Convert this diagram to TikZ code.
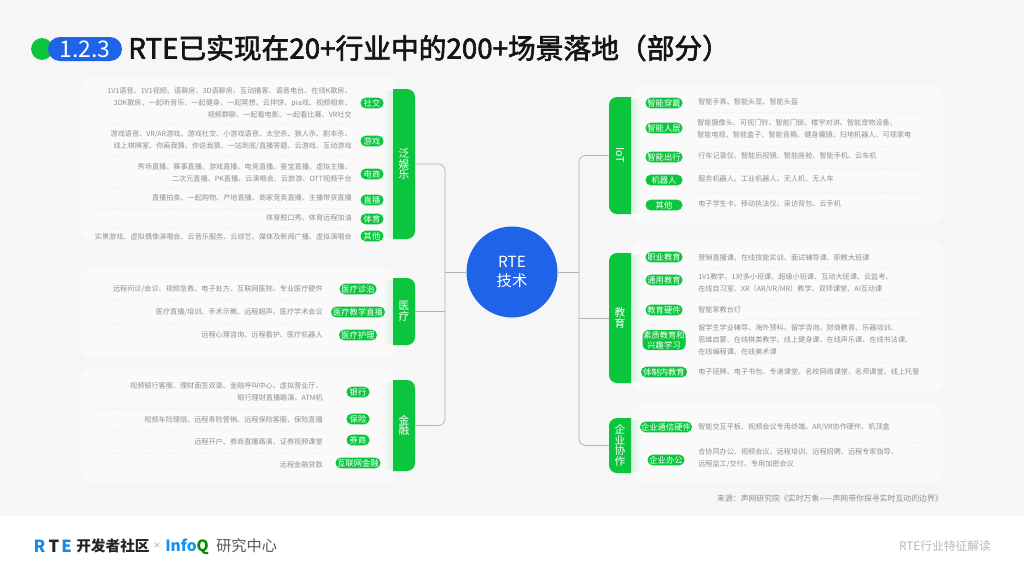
\documentclass[tikz,border=0pt]{standalone}
\usepackage{fontspec}
\setmainfont{Noto Sans CJK SC}
\newfontfamily\titlefont[FakeBold=2.2]{Noto Sans CJK SC}
\definecolor{bgc}{HTML}{F6F6F6}
\definecolor{panelc}{HTML}{FAFAFA}
\definecolor{greenc}{HTML}{0CC53F}
\definecolor{bluec}{HTML}{1F63E8}
\definecolor{bodyc}{HTML}{8F8F8F}
\definecolor{linec}{HTML}{B4B4B4}
\tikzset{
  x=0.75pt,y=-0.75pt,
  panel/.style={fill=panelc,rounded corners=9pt},
  bodytext/.style={font=\fontsize{5.35}{9}\selectfont,text=bodyc,inner sep=0pt},
  rtext/.style={bodytext,anchor=east,align=right},
  ltext/.style={bodytext,anchor=west,align=left},
  tagbox/.style={fill=greenc,text=white,rounded corners=3.9pt,inner sep=0pt,minimum height=8pt,minimum width=#1*0.75pt,font=\fontsize{6.2}{7.6}\selectfont},
  barfill/.style={fill=greenc,rounded corners=7pt},
  barlabel/.style={text=white,inner sep=0pt,align=center,font=\fontsize{8}{8}\selectfont},
  sep/.style={densely dotted,draw=black!6,line width=0.4pt},
  conn/.style={draw=linec,line width=0.55pt,rounded corners=5pt},
}
\newcommand{\barLeft}[6]{% name x1 y1 x2 y2 text (rounded right)
  \shade[left color=panelc,right color=greenc!14!panelc] (#2-10,#3+2) rectangle (#2,#5-2);
  \fill[greenc] (#2,#3) -- (#4-8,#3) arc[start angle=90,end angle=0,radius=6pt] -- (#4,#5-8) arc[start angle=0,end angle=-90,radius=6pt] -- (#2,#5) -- cycle;
  \node[barlabel,minimum width=22*0.75pt,minimum height={(#5-#3)*0.75pt}] (#1) at ({(#2+#4)/2},{(#3+#5)/2}) {#6};
}
\newcommand{\barRight}[6]{% name x1 y1 x2 y2 text (rounded left)
  \shade[right color=panelc,left color=greenc!14!panelc] (#4,#3+2) rectangle (#4+10,#5-2);
  \fill[greenc] (#4,#3) -- (#2+8,#3) arc[start angle=90,end angle=180,radius=6pt] -- (#2,#5-8) arc[start angle=180,end angle=270,radius=6pt] -- (#4,#5) -- cycle;
  \node[barlabel,minimum width=22*0.75pt,minimum height={(#5-#3)*0.75pt}] (#1) at ({(#2+#4)/2},{(#3+#5)/2}) {#6};
}
\begin{document}
\begin{tikzpicture}
\useasboundingbox (0,0) rectangle (1024,576);
\fill[bgc] (0,0) rectangle (1024,516);
\fill[white] (0,516) rectangle (1024,576);

% title
\fill[greenc] (42,49) circle[radius=8.2pt];
\node[fill=bluec,text=white,rounded corners=9pt,minimum width=74*0.75pt,minimum height=24*0.75pt,inner sep=0pt,font=\fontsize{17.2}{18}\selectfont] (num) at (85,49) {1.2.3};
\node[anchor=west,inner sep=0pt,font=\titlefont\fontsize{20.8}{24}\selectfont,text=black!92] (title) at (128,48) {RTE已实现在20+行业中的200+场景落地（部分）};

% panels
\fill[panel] (80,77) rectangle (395,241);
\fill[panel] (80,268) rectangle (395,358);
\fill[panel] (80,367) rectangle (395,483);
\fill[panel] (632,85) rectangle (943,224);
\fill[panel] (632,240) rectangle (943,393);
\fill[panel] (632,404) rectangle (943,483);

% bars
\barLeft{fun}{393}{89}{415}{239}{泛\\娱\\乐}
\barLeft{med}{393}{278}{415}{345}{医\\疗}
\barLeft{fin}{393}{380}{415}{471}{金\\融}
\barRight{iot}{609}{97}{631}{214}{}
\node[barlabel,rotate=-90] (iottext) at (iot.center) {IoT};
\barRight{edu}{609}{253}{631}{383}{教\\育}
\barRight{ent}{609}{418}{631}{473}{企\\业\\协\\作}

% centre
\node[circle,fill=bluec,text=white,minimum size=91*0.75pt,inner sep=0pt,align=center,font=\fontsize{11.5}{14.3}\selectfont] (tech) at (512,272) {RTE\\技术};

% connectors
\coordinate (busL) at (445,272);
\coordinate (busR) at (579,272);
\draw[conn] (fun.east) -| (busL) |- (fin.east);
\draw[conn] (med.east) -- (med.east -| busL);
\draw[conn] (tech.west) -- (busL);
\draw[conn] (iot.west) -| (busR) |- (ent.west);
\draw[conn] (edu.west) -- (edu.west -| busR);
\draw[conn] (tech.east) -- (busR);

% panel 1
\foreach \y in {123,156,188,208,228} \draw[sep] (97,\y) -- (352,\y);
\node[rtext] (a1) at (352,103) {1V1语音、1V1视频、语聊房、3D语聊房、互动播客、语音电台、在线K歌房、\\3DK歌房、一起听音乐、一起健身、一起冥想、云拌饼、pia戏、视频相亲、\\视频群聊、一起看电影、一起看比赛、VR社交};
\node[rtext] (a2) at (352,140) {游戏语音、VR/AR游戏、游戏社交、小游戏语音、太空杀、狼人杀、剧本杀、\\线上棋牌室、你画我猜、你说我猜、一站到底/直播答题、云游戏、互动游戏};
\node[rtext] (a3) at (352,173) {秀场直播、赛事直播、游戏直播、电竞直播、鉴宝直播、虚拟主播、\\二次元直播、PK直播、云演唱会、云旅游、OTT视频平台};
\node[rtext] (a4) at (352,198) {直播拍卖、一起购物、产地直播、商家竞卖直播、主播带货直播};
\node[rtext] (a5) at (352,218) {体育脱口秀、体育远程加油};
\node[rtext] (a6) at (352,237) {实景游戏、虚拟偶像演唱会、云音乐服务、云综艺、媒体及新闻广播、虚拟演唱会};
\node[tagbox=23] (ta1) at (372,103) {社交};
\node[tagbox=23] (ta2) at (372,141) {游戏};
\node[tagbox=23] (ta3) at (372,174) {电商};
\node[tagbox=23] (ta4) at (372,200) {直播};
\node[tagbox=23] (ta5) at (372,219) {体育};
\node[tagbox=23] (ta6) at (372,236) {其他};

% panel 2
\foreach \y in {300,323} \draw[sep] (97,\y) -- (323,\y);
\node[rtext] (b1) at (323,289) {远程问诊/会诊、视频急救、电子处方、互联网医院、专业医疗硬件};
\node[rtext] (b2) at (323,312) {医疗直播/培训、手术示教、远程超声、医疗学术会议};
\node[rtext] (b3) at (323,335) {远程心理咨询、远程看护、医疗机器人};
\node[tagbox=37] (tb1) at (358,289) {医疗诊治};
\node[tagbox=54] (tb2) at (358,312) {医疗教学直播};
\node[tagbox=38] (tb3) at (358,335) {医疗护理};

% panel 3
\foreach \y in {408,430,453} \draw[sep] (97,\y) -- (323,\y);
\node[rtext] (c1) at (323,392) {视频银行客服、理财面签双录、金融呼叫中心、虚拟营业厅、\\银行理财直播路演、ATM机};
\node[rtext] (c2) at (323,420) {视频车险理赔、远程寿险营销、远程保险客服、保险直播};
\node[rtext] (c3) at (323,442) {远程开户、券商直播路演、证券视频课堂};
\node[rtext] (c4) at (323,465) {远程金融贷款};
\node[tagbox=23] (tc1) at (358,392) {银行};
\node[tagbox=23] (tc2) at (358,419) {保险};
\node[tagbox=23] (tc3) at (358,440) {券商};
\node[tagbox=45] (tc4) at (358,463) {互联网金融};

% panel IoT
\foreach \y in {112,146,168,192} \draw[sep] (697,\y) -- (918,\y);
\node[tagbox=37] (td1) at (664,103) {智能穿戴};
\node[tagbox=37] (td2) at (664,128) {智能人居};
\node[tagbox=37] (td3) at (664,157) {智能出行};
\node[tagbox=37] (td4) at (664,180) {机器人};
\node[tagbox=37] (td5) at (664,205) {其他};
\node[ltext] (d1) at (698,102) {智能手表、智能头显、智能头盔};
\node[ltext] (d2) at (697,129) {智能摄像头、可视门铃、智能门锁、楼宇对讲、智能宠物设备、\\智能电视、智能盒子、智能音箱、健身魔镜、扫地机器人、可视家电};
\node[ltext] (d3) at (698,156) {行车记录仪、智能后视镜、智能座舱、智能手机、云车机};
\node[ltext] (d4) at (698,179) {服务机器人、工业机器人、无人机、无人车};
\node[ltext] (d5) at (698,204) {电子学生卡、移动执法仪、采访背包、云手机};

% panel education
\foreach \y in {267,299,319,362} \draw[sep] (697,\y) -- (918,\y);
\node[tagbox=37] (te1) at (664,257) {职业教育};
\node[tagbox=37] (te2) at (664,280) {通用教育};
\node[tagbox=37] (te3) at (664,310) {教育硬件};
\node[tagbox=43,minimum height=15pt,align=center] (te4) at (664,340) {素质教育和\\兴趣学习};
\node[tagbox=46] (te5) at (664,372) {体制内教育};
\node[ltext] (e1) at (698,258) {营销直播课、在线技能实训、面试辅导课、职教大班课};
\node[ltext] (e2) at (698,283) {1V1教学、1对多小班课、超级小班课、互动大班课、云监考、\\在线自习室、XR（AR/VR/MR）教学、双师课堂、AI互动课};
\node[ltext] (e3) at (698,310) {智能家教台灯};
\node[ltext] (e4) at (698,340) {留学生学业辅导、海外预科、留学咨询、财商教育、乐器培训、\\思维启蒙、在线棋类教学、线上健身课、在线声乐课、在线书法课、\\在线编程课、在线美术课};
\node[ltext] (e5) at (698,372) {电子班牌、电子书包、专递课堂、名校网络课堂、名师课堂、线上托管};

% panel enterprise
\draw[sep] (697,442) -- (928,442);
\node[tagbox=52] (tf1) at (666,427) {企业通信硬件};
\node[tagbox=37] (tf2) at (666,460) {企业办公};
\node[ltext] (f1) at (698,427) {智能交互平板、视频会议专用终端、AR/VR协作硬件、机顶盒};
\node[ltext] (f2) at (698,458.5) {合协同办公、视频会议、远程培训、远程招聘、远程专家指导、\\远程监工/交付、专用加密会议};

% source
\node[anchor=east,inner sep=0pt,text=bodyc,font=\fontsize{5.9}{7}\selectfont] (src) at (943,498) {来源：声网研究院《实时万象——声网带你探寻实时互动的边界》};

% footer
\node[inner sep=0pt,text=bluec!75!cyan,font=\bfseries\fontsize{12.5}{14}\selectfont] (lr) at (39.5,546) {R};
\node[inner sep=0pt,text=black!85,font=\bfseries\fontsize{12.5}{14}\selectfont] (lt) at (54,546) {T};
\node[inner sep=0pt,text=bluec!75!cyan,font=\bfseries\fontsize{12.5}{14}\selectfont] (le) at (66.5,546) {E};
\node[anchor=west,inner sep=0pt,text=black!85,font=\bfseries\fontsize{11}{13}\selectfont] (dev) at (76,546) {开发者社区};
\node[inner sep=0pt,text=black!40,font=\fontsize{6}{7}\selectfont] (times) at (157,546) {×};
\node[anchor=base west,inner sep=0pt,font=\bfseries\fontsize{11.6}{14}\selectfont] (infoq) at (165,551) {\textcolor{bluec!70!cyan}{Info}\textcolor{green!55!black}{Q}};
\node[anchor=west,inner sep=0pt,text=black!65,font=\fontsize{11.4}{13}\selectfont] (lab) at (216,546) {研究中心};
\node[anchor=east,inner sep=0pt,text=black!28,font=\fontsize{8.8}{10}\selectfont] (foot) at (991,546) {RTE行业特征解读};
\end{tikzpicture}
\end{document}
